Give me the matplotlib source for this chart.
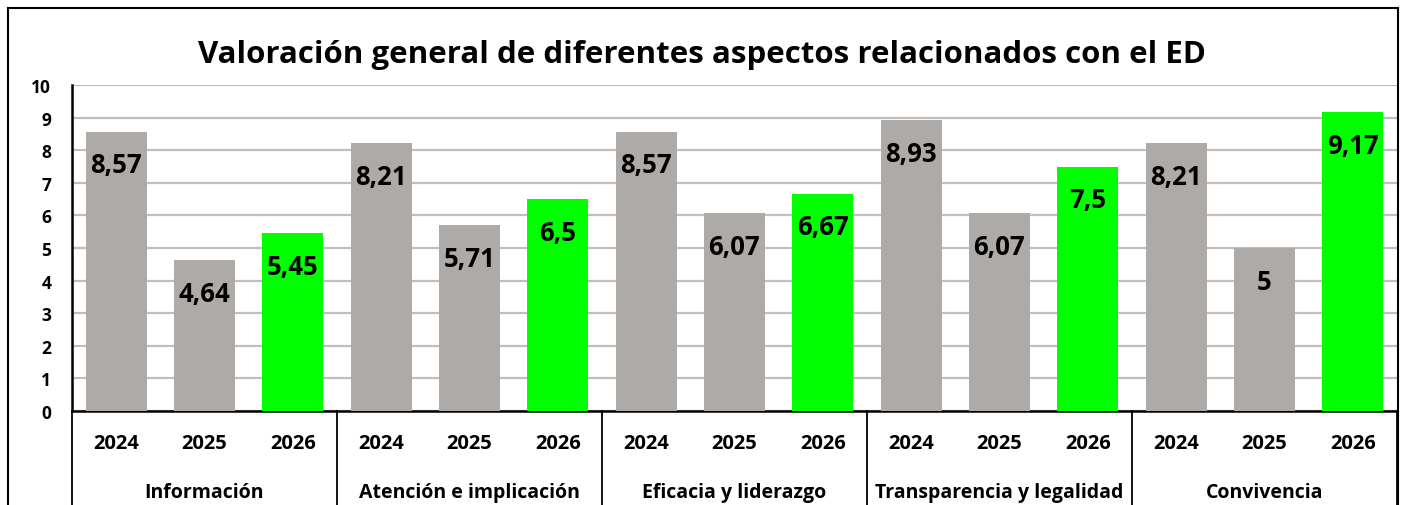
"""Valoración general ED - bar chart with two-level category axis."""
import matplotlib

matplotlib.use("Agg")
import matplotlib.pyplot as plt
from matplotlib.lines import Line2D

plt.rcParams["font.family"] = ["Open Sans", "DejaVu Sans"]

groups = ["Información", "Atención e implicación", "Eficacia y liderazgo",
          "Transparencia y legalidad", "Convivencia"]
years = ["2024", "2025", "2026"]
values = [
    [8.57, 4.64, 5.45],
    [8.21, 5.71, 6.5],
    [8.57, 6.07, 6.67],
    [8.93, 6.07, 7.5],
    [8.21, 5.0, 9.17],
]
year_colors = ["#ADAAA8", "#ADAAA8", "#00FF00"]

W, H = 1403, 506
fig = plt.figure(figsize=(W / 100, H / 100), dpi=100)
ax = fig.add_axes([72 / W, (H - 412) / H, (1397 - 72) / W, (412 - 86) / H])

n_years = len(years)
for gi, vals in enumerate(values):
    for yi, v in enumerate(vals):
        x = gi * n_years + yi
        ax.bar(x, v, width=0.69, color=year_colors[yi], zorder=3)
        label = f"{v:g}".replace(".", ",")
        ax.annotate(label, (x, v), xytext=(0, -24), textcoords="offset points",
                    ha="center", va="center", fontsize=18.5, fontweight="bold",
                    color="black", zorder=4)

n = len(groups) * n_years
ax.set_xlim(-0.5, n - 0.5)
ax.set_ylim(0, 10)
ax.set_yticks(range(0, 11))
ax.tick_params(axis="y", length=0, labelsize=12.5, pad=15)
for lab in ax.get_yticklabels():
    lab.set_fontweight("bold")
ax.set_xticks([])
ax.grid(axis="y", color="#BFBFBF", linewidth=1.6, zorder=0)
ax.set_axisbelow(True)
for side in ["top", "right"]:
    ax.spines[side].set_visible(False)
ax.spines["left"].set_linewidth(1.8)
ax.spines["bottom"].set_linewidth(1.8)

# Two-level category axis
xt = ax.get_xaxis_transform()
for gi, name in enumerate(groups):
    for yi, yr in enumerate(years):
        ax.text(gi * n_years + yi, -0.097, yr, transform=xt, ha="center",
                va="center", fontsize=14.5, fontweight="bold")
    ax.text(gi * n_years + 1, -0.247, name, transform=xt, ha="center",
            va="center", fontsize=14, fontweight="bold")
for gi in range(len(groups) + 1):
    xs = gi * n_years - 0.5
    ax.add_line(Line2D([xs, xs], [0, -0.35], transform=xt, color="black",
                       linewidth=1.3, clip_on=False))

# Chart border
bx0, bx1, by1 = 7.5 / W, 1397.5 / W, 1 - 8.5 / H
for xs, ys in [([bx0, bx0], [-0.1, by1]), ([bx0, bx1], [by1, by1]), ([bx1, bx1], [-0.1, by1])]:
    fig.add_artist(Line2D(xs, ys, transform=fig.transFigure, color="black", linewidth=1.5))

fig.text(0.5 * (205 + 1200) / W, 1 - 55 / H,
         "Valoración general de diferentes aspectos relacionados con el ED",
         ha="center", va="center", fontsize=22.5, fontweight="bold")

fig.savefig("out.png", dpi=100, facecolor="white")
plt.close(fig)
